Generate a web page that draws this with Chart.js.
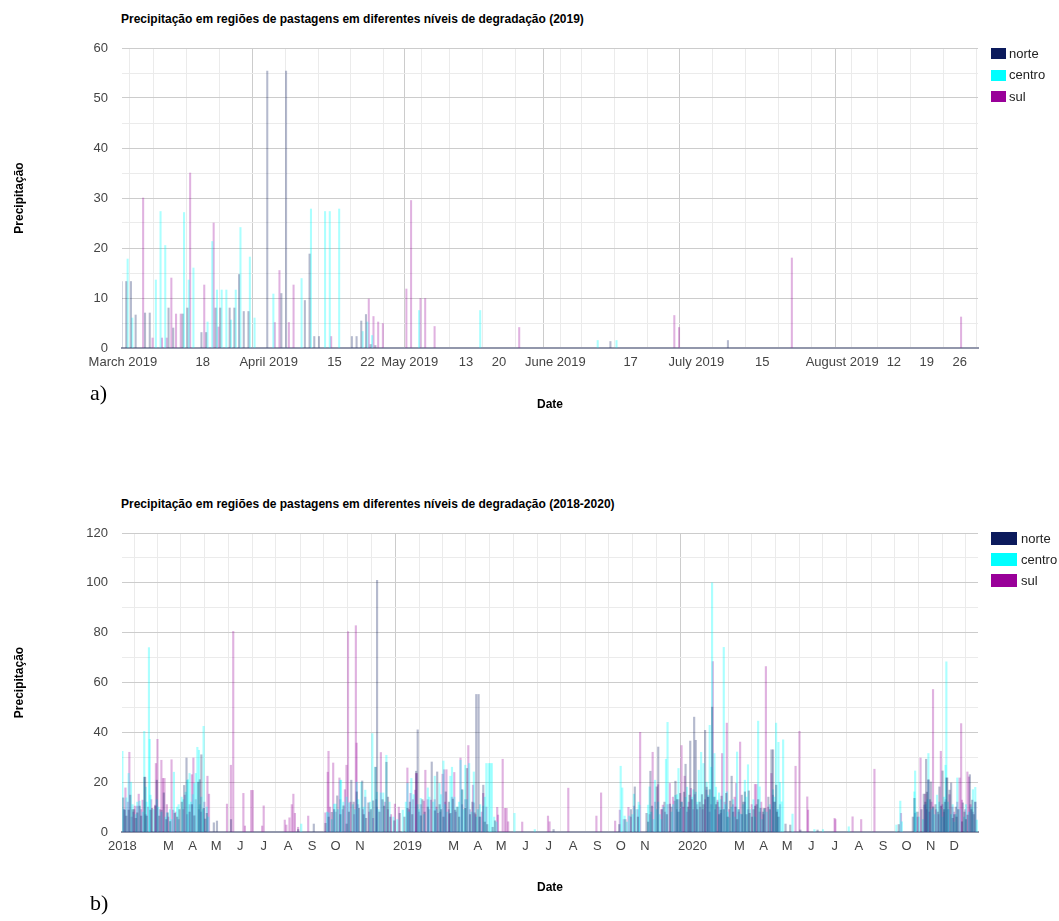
<!DOCTYPE html>
<html><head><meta charset="utf-8">
<script src="https://cdn.jsdelivr.net/npm/chart.js@4.4.1/dist/chart.umd.min.js"></script>
<style>
html,body{margin:0;padding:0;background:#fff;width:1059px;height:921px;overflow:hidden;font-family:"Liberation Sans",Arial,sans-serif;}
canvas{position:absolute;left:0;}
.title{position:absolute;left:121px;font-weight:bold;font-size:12px;line-height:14px;color:#000;white-space:nowrap;}
.leg{position:absolute;left:991px;font-size:13px;color:#222;}
.row{position:absolute;left:0;white-space:nowrap;}
.sw{position:absolute;left:0;}
.txt{position:absolute;top:0;line-height:15px;}
.lab{position:absolute;left:90px;font-family:"Liberation Serif","Times New Roman",serif;font-size:22px;line-height:22px;color:#000;}
</style></head><body>

<div class="title" style="top:12px">Precipitação em regiões de pastagens em diferentes níveis de degradação (2019)</div>
<canvas id="ca" width="1059" height="420" style="top:0px"></canvas>
<div class="leg" id="lega" style="top:48px"></div>
<div class="lab" style="top:382px">a)</div>

<div class="title" style="top:497px">Precipitação em regiões de pastagens em diferentes níveis de degradação (2018-2020)</div>
<canvas id="cb" width="1059" height="441" style="top:480px"></canvas>
<div class="leg" id="legb" style="top:532px"></div>
<div class="lab" style="top:892px">b)</div>

<script>
// ---------- series ----------
const seriesNames = ['norte', 'centro', 'sul'];
const seriesColors = ['#0b1a5c', '#00ffff', '#990099'];

// ---------- chart a: [day counted from 2019-03-01, precipitation] ----------
const aStart = '2019-03-01';
const aNorte = [[0,13.3],[1,13.3],[2,13.3],[3,6.6],[5,7],[6,7],[10,8],[11,4],[13,6.8],[14,8],[17,3.1],[18,3.1],[20,8],[21,8],[23,8],[24,8],[25,14.7],[26,7.3],[27,7.3],[31,55.4],[34,10.9],[35,55.4],[39,9.5],[40,18.8],[41,2.3],[42,2.3],[49,2.3],[50,2.3],[51,5.4],[52,6.7],[53,0.7],[54,0.5],[104,1.3],[129,1.5]];
const aCentro = [[1,17.8],[2,6],[7,13.6],[8,27.3],[9,20.5],[13,27.1],[14,13.6],[15,16],[18,5.2],[19,21.3],[20,11.6],[21,11.6],[22,11.6],[23,5.6],[24,11.6],[25,24.1],[27,18.2],[28,6],[32,10.8],[38,13.9],[40,27.8],[43,27.3],[44,27.3],[46,27.8],[51,3.3],[52,5.2],[53,2.5],[63,7.5],[76,7.5],[101,1.5],[105,1.5]];
const aSul = [[4,30],[6,2],[8,2],[9,2],[10,14],[11,6.8],[12,6.8],[14,35],[17,12.6],[19,25],[20,4.2],[32,5.1],[33,15.5],[35,5.1],[36,12.6],[44,2.3],[52,9.8],[53,6.3],[54,5.2],[55,4.9],[60,11.8],[61,29.5],[63,9.9],[64,9.9],[66,4.3],[84,4.1],[117,6.5],[118,4.1],[142,18],[178,6.2]];
const aTickDays   = [0,3,10,17,24,31,38,45,52,59,61,66,73,80,87,92,94,101,108,115,122,129,136,143,150,153,157,164,171,178];
const aTickLabels = ['March 2019','','','18','','April 2019','','15','22','','May 2019','','13','20','','June 2019','','','17','','July 2019','','15','','','August 2019','','12','19','26'];
const aMonthDays  = [31,61,92,122,153];

// ---------- chart b: [day counted from 2018-01-01, precipitation] ----------
const bStart = '2018-01-01';
const bNorte = [[0,13.7],[3,13.7],[5,8.8],[7,6.4],[10,8.8],[12,14.8],[15,9],[17,9],[19,5.5],[21,7.7],[24,10.4],[26,6.4],[30,22],[31,22],[33,6.4],[38,8.8],[40,9.5],[44,10.4],[46,20.8],[49,6.4],[52,8.8],[55,15.7],[58,5],[60,7.7],[63,4.2],[69,7.5],[72,6],[75,9],[78,12],[81,18.7],[84,29.7],[88,8],[91,11],[94,6.5],[99,20],[101,21],[103,31],[106,9.5],[108,5.2],[110,7.5],[119,3.7],[123,4.4],[141,5],[227,1],[247,3.2],
  [262,3.5],[266,6],[270,7.9],[273,9],[277,14.5],[281,7],[285,10.5],[289,3.2],[292,8],[295,20.8],[298,12],[302,16.1],[305,9.5],[309,20.5],[311,7],[314,5.5],[317,11.7],[320,9],[323,12.5],[326,26],[328,101],[331,8],[335,13],[337,10.4],[340,28],[342,14],[345,6],[350,4.5],[357,7.5],
  [363,6],[367,9.5],[370,12],[373,7],[378,24.4],[380,41],[384,6.5],[386,13],[389,8],[393,10],[398,28.1],[402,8.5],[405,24.1],[408,11],[410,9],[413,6],[416,16.1],[420,12],[422,7.5],[425,13.2],[428,8.8],[431,10],[433,6],[437,17],[441,9.5],[443,25.5],[447,7],[450,12],[453,7.7],[455,55.2],[458,55.2],[460,6],[464,18.8],[466,4],[469,3],[476,1.9],[479,4.5],[554,1],
  [638,3],[646,5],[653,9],[658,18.1],[662,6],[673,7.5],[675,4],[678,24.4],[680,10.4],[686,18.1],[688,34.1],[693,9],[696,12],[699,7],[703,11.2],[705,10],[710,20.4],[712,13],[714,8],[716,15.5],[718,12],[721,16],[723,27.2],[726,10],[728,14.8],[729,36.5],[731,13],[734,46.1],[736,36.8],[738,9],[741,12],[744,15],[746,11],[748,40.8],[750,18],[752,14],[754,17],[757,50.1],[760,14],[762,11],[764,12],[766,7],[768,8.8],[769,14.4],[772,9],[775,15.5],[777,6],[780,12.4],[782,22.4],[784,8],[787,10],[789,5],[791,9],[795,14.8],[797,12],[799,16.1],[801,7],[804,16.5],[805,7.5],[808,6],[810,9],[812,10.4],[814,11],[816,13],[819,9.5],[822,8],[823,9.5],[825,9.5],[829,14],[831,9],[833,33],[835,33],[837,12],[839,18.8],[840,8],[842,6],[851,3.2],[857,2.8],[870,0.8],[892,0.8],
  [996,3],[1014,6],[1016,13.5],[1020,8],[1025,9],[1028,15.2],[1030,12],[1031,29.2],[1032,16],[1034,21],[1036,13],[1037,20.1],[1040,10.1],[1043,11],[1046,8],[1048,18.1],[1050,10.4],[1052,24.5],[1054,9],[1055,12],[1057,21.7],[1058,21.7],[1061,16.8],[1063,19.7],[1065,5.5],[1067,7],[1069,10],[1070,6],[1072,9],[1077,4.1],[1078,11.7],[1080,8],[1082,5],[1084,6.8],[1087,23],[1089,9],[1090,12.8],[1092,7],[1094,12]];
const bCentro = [[0,32.4],[2,9],[5,13.7],[8,23.5],[11,20],[13,11],[17,7],[19,12],[22,12.4],[26,8],[28,40.4],[30,18],[31,12],[34,74],[35,37.2],[36,14.8],[40,9],[44,13],[46,10],[50,8],[55,6],[57,7.7],[61,9],[63,5],[66,24],[70,10],[72,11],[76,14],[78,13],[81,16],[83,20.8],[84,21],[86,23.5],[88,12],[90,15],[92,19.5],[94,23.5],[96,34],[98,32.8],[99,11],[101,14],[103,9],[104,42.4],[108,10],[110,6],[229,3.2],
  [262,8],[264,7.7],[268,5],[271,11.2],[273,11.2],[276,9],[279,20.8],[280,20.8],[283,12],[287,14],[290,11.7],[295,11],[298,9],[300,20],[302,13],[306,20],[309,10],[311,16.8],[317,12],[320,39.5],[324,26],[326,16],[328,9],[331,15.7],[334,15.7],[338,30.8],[342,12],[347,6],[352,5],[359,8.8],
  [363,12],[365,19.5],[367,8],[370,21.5],[373,15],[378,11],[380,9],[382,13.5],[386,7],[391,17.7],[393,14],[398,12],[400,22.4],[402,9],[406,19.5],[408,15],[411,28.5],[413,11],[416,8],[420,22.4],[422,26],[425,14],[428,10],[431,12],[433,28.8],[435,16.8],[437,9],[439,26.8],[441,13],[444,27.5],[447,8],[450,24.1],[453,6],[455,9],[458,11],[462,10.4],[464,14],[466,27.5],[469,27.5],[471,27.5],[473,27.5],[476,6],[479,4],[502,7.5],[528,1],
  [638,26.4],[640,17.7],[643,6.4],[646,4],[649,6.4],[653,7],[655,15.2],[658,9],[661,12],[662,10.8],[673,10.8],[675,18.1],[677,8],[680,5],[682,20.8],[684,9],[686,12],[688,7],[690,5],[693,10],[696,29.2],[698,44],[703,8],[705,11],[708,14.7],[710,15],[712,25.5],[714,9],[716,12],[721,13.9],[723,18],[726,9],[729,14],[731,17],[734,16],[736,12],[738,24.8],[741,32],[744,27.5],[748,20],[750,14.8],[752,42.8],[754,26],[755,100],[757,14],[758,31.5],[760,18],[764,15.7],[766,13],[768,9],[770,74.1],[772,11],[774,16.1],[775,8],[777,5.7],[780,10],[782,13],[784,6],[787,32.1],[789,9],[791,7.2],[793,7],[795,11],[797,20.8],[799,14],[801,27],[804,9],[808,13],[810,6],[814,44.5],[816,18.1],[819,5],[822,9],[825,8],[829,11],[833,17],[835,14],[837,43.7],[839,9],[840,36],[842,19.9],[844,12.1],[846,37],[858,7.2],[886,1],[897,1],[930,2.1],
  [991,2.8],[996,12.4],[998,4.1],[1014,16.1],[1015,24.5],[1016,8],[1020,6],[1025,5],[1028,11],[1031,13],[1032,31.5],[1036,9],[1038,9.7],[1040,7],[1043,14.8],[1046,12],[1048,9],[1050,6],[1052,14],[1054,26.8],[1055,68.3],[1057,12],[1058,9],[1061,7],[1063,11],[1065,4],[1067,7],[1069,21.7],[1072,9],[1078,6],[1080,11],[1084,8],[1087,10],[1089,17],[1092,17.9],[1094,4.8]];
const bSul = [[0,9],[2,17.7],[5,12],[7,32],[10,6],[12,8],[14,10.4],[17,10.4],[19,15.2],[22,9],[24,12.8],[28,7],[31,10],[35,13],[40,10.8],[41,27.5],[43,37.2],[46,9],[48,28.8],[50,21.5],[52,21.5],[55,11],[57,6],[61,29],[63,8.8],[66,8],[70,5],[76,9],[78,14.8],[81,7],[84,11],[87,23],[89,29.7],[92,13],[96,9],[99,8],[103,12],[107,22.4],[109,15.2],[132,11.2],[137,26.8],[140,80.5],[153,15.5],[155,2.4],[163,16.7],[165,16.7],[177,2.4],[179,10.5],[206,4.8],[208,2.8],[212,5.7],[215,11],[217,15.2],[219,7.5],[223,1.9],[236,6.4],
  [258,7.7],[261,24],[262,32.4],[264,10],[268,27.7],[271,8],[276,21.7],[277,13],[280,9],[283,17],[285,26.8],[287,80.4],[290,12],[295,7],[297,82.8],[298,35.7],[300,11],[306,9],[309,14],[314,8],[319,5.5],[323,13],[324,10],[329,31.9],[334,12],[338,9],[342,7],[347,11.2],[352,10],
  [363,25.7],[365,9],[367,15.5],[370,13],[373,16.8],[374,23.5],[375,23.5],[378,8],[380,11],[384,12.4],[386,24.8],[389,13],[391,9],[393,12.8],[398,13],[400,10],[402,7.5],[405,8],[408,23.2],[410,25],[411,12],[413,25],[416,9],[417,7.2],[420,14],[423,23.9],[425,8],[431,29.7],[433,11],[437,13],[441,34.7],[443,9],[447,18.8],[448,11.7],[450,7],[455,6],[458,8],[460,15.5],[464,10],[478,9.9],[479,6.8],[485,29.2],[488,9.5],[490,9.5],[492,4.1],[510,4],[543,6.4],[545,4.1],[569,17.6],[605,6.4],[611,15.7],
  [629,4.4],[635,8.8],[640,5],[646,9.9],[649,6],[653,10.4],[658,9],[661,40],[673,7],[677,32],[680,12],[684,19],[688,9],[690,10.8],[693,8],[696,11],[699,19.5],[703,14],[705,12.4],[708,9],[710,13],[714,34.7],[716,10],[718,22.4],[721,8],[723,12],[726,17.5],[729,9],[731,15],[734,11],[738,10],[741,9],[744,13],[746,16.8],[748,14],[750,8],[752,11],[754,68.4],[757,9],[760,12.8],[762,10],[764,7.5],[766,31.5],[769,12],[772,43.7],[775,9],[780,11],[782,14],[784,19.5],[787,8],[789,36.1],[791,7],[795,12],[799,9],[804,11],[808,19.1],[810,19.1],[814,8],[816,12],[819,7],[822,66.4],[825,10],[829,23.5],[831,14.8],[833,12],[837,9],[840,11],[860,26.4],[865,40.4],[875,14.1],[876,8.8],[910,5.5],[911,5],[933,6.1],[944,5],[961,25.2],
  [995,7.5],[1013,7.5],[1016,6],[1020,29.7],[1025,10.8],[1026,15.2],[1028,9],[1030,20.8],[1031,8],[1034,12],[1036,57.2],[1040,9],[1043,7],[1046,32.4],[1048,11],[1050,8],[1052,13],[1055,9],[1057,15],[1061,10],[1063,8],[1067,12],[1070,21.7],[1072,43.5],[1073,12.8],[1077,9],[1080,24.1],[1082,22.1],[1084,11],[1087,8],[1090,12]];
const bTickDays   = [0,31,59,90,120,151,181,212,243,273,304,334,365,396,424,455,485,516,546,577,608,638,669,699,730,761,790,821,851,882,912,943,974,1004,1035,1065];
const bTickLabels = ['2018','','M','A','M','J','J','A','S','O','N','','2019','','M','A','M','J','J','A','S','O','N','','2020','','M','A','M','J','J','A','S','O','N','D'];
const bYearDays   = [365,730];

// ---------- drawing ----------
const FONT = '"Liberation Sans", Arial, sans-serif';
Chart.defaults.font.family = FONT;
const barAlpha = [0.3, 0.33, 0.3];

function rgba(hex, a) {
  const n = parseInt(hex.slice(1), 16);
  return 'rgba(' + ((n >> 16) & 255) + ',' + ((n >> 8) & 255) + ',' + (n & 255) + ',' + a + ')';
}

function makeLegend(id, cfg) {
  const el = document.getElementById(id);
  seriesNames.forEach((name, i) => {
    const row = document.createElement('div');
    row.className = 'row';
    row.style.top = (i * cfg.rowGap) + 'px';
    const sw = document.createElement('div');
    sw.className = 'sw';
    sw.style.width = cfg.boxW + 'px';
    sw.style.height = cfg.boxH + 'px';
    sw.style.top = '0px';
    sw.style.background = seriesColors[i];
    const tx = document.createElement('div');
    tx.className = 'txt';
    tx.style.left = cfg.textX + 'px';
    tx.style.top = (cfg.boxH / 2 - 8) + 'px';
    tx.textContent = name;
    row.appendChild(sw); row.appendChild(tx);
    el.appendChild(row);
  });
}

function build(id, series, cfg) {
  const labelOf = new Map(cfg.tickDays.map((d, i) => [d, cfg.tickLabels[i]]));
  new Chart(document.getElementById(id), {
    type: 'bar',
    data: {
      datasets: series.map((s, i) => ({
        label: seriesNames[i],
        data: s.slice().sort((p, q) => p[0] - q[0]).map(p => ({ x: p[0], y: p[1] })),
        backgroundColor: rgba(seriesColors[i], barAlpha[i]),
        borderWidth: 0,
        barThickness: cfg.barThickness
      }))
    },
    options: {
      responsive: false, animation: false, devicePixelRatio: 1, events: [],
      layout: { padding: { left: 0, right: 81, top: cfg.top, bottom: 0 } },
      plugins: { legend: { display: false }, title: { display: false }, tooltip: { enabled: false } },
      scales: {
        x: {
          type: 'linear', min: cfg.xmin, max: cfg.xmax, offset: false,
          afterFit: s => { s.height = cfg.xHeight; },
          afterBuildTicks: s => { s.ticks = cfg.tickDays.map(v => ({ value: v })); },
          ticks: {
            autoSkip: false, maxRotation: 0, minRotation: 0, padding: 7, color: '#444',
            font: { size: 13 },
            callback: v => labelOf.has(v) ? labelOf.get(v) : ''
          },
          grid: { drawTicks: false, lineWidth: 1,
            color: c => (c.tick && cfg.majorDays.includes(c.tick.value)) ? '#cccccc' : '#ebebeb' },
          border: { display: true, color: '#9297ab', width: 2 },
          title: { display: true, text: 'Date', color: '#000', font: { size: 12, weight: 'bold' },
            padding: { top: 0, bottom: cfg.dateBottom } }
        },
        y: {
          min: 0, max: cfg.ymax,
          afterFit: s => { s.width = 122; },
          ticks: { stepSize: cfg.ystep, padding: 14, color: '#444', font: { size: 13 },
            callback: v => (v % cfg.ylab === 0) ? String(v) : '' },
          grid: { drawTicks: false, lineWidth: 1,
            color: c => (c.tick && c.tick.value % cfg.ylab === 0) ? '#cccccc' : '#ebebeb' },
          border: { display: false },
          title: { display: true, text: 'Precipitação', color: '#000', font: { size: 12, weight: 'bold' },
            padding: { top: 12, bottom: 0 } }
        }
      }
    }
  });
}

build('ca', [aNorte, aCentro, aSul], {
  top: 48, xHeight: 72, xmin: -0.2, xmax: 181.9, barThickness: 1.4,
  tickDays: aTickDays, tickLabels: aTickLabels, majorDays: aMonthDays,
  ymax: 60, ystep: 5, ylab: 10, dateBottom: 8
});
build('cb', [bNorte, bCentro, bSul], {
  top: 53, xHeight: 89, xmin: -0.5, xmax: 1095.5, barThickness: 1.5,
  tickDays: bTickDays, tickLabels: bTickLabels, majorDays: bYearDays,
  ymax: 120, ystep: 10, ylab: 20, dateBottom: 26
});
makeLegend('lega', { rowGap: 21.5, boxW: 15, boxH: 11, textX: 18 });
makeLegend('legb', { rowGap: 21, boxW: 26, boxH: 13, textX: 30 });
</script>
</body></html>
